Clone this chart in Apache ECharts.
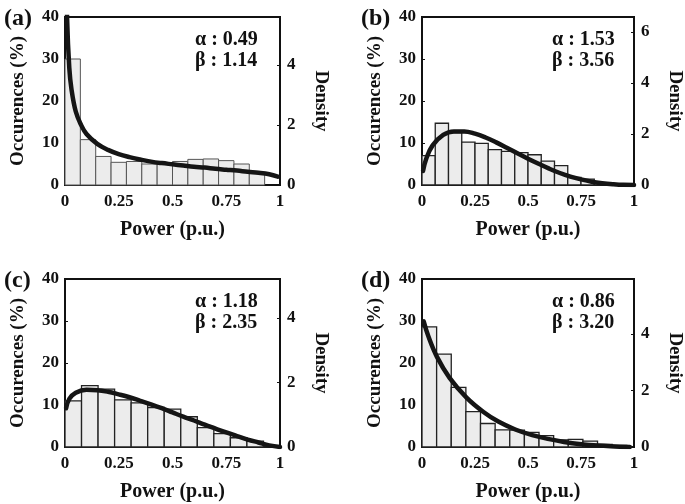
<!DOCTYPE html>
<html>
<head>
<meta charset="utf-8">
<script src="https://cdn.jsdelivr.net/npm/echarts@6/dist/echarts.min.js"></script>
<style>
html, body { margin: 0; background: #fff; }
#chart { width: 685px; height: 504px; }
</style>
</head>
<body>
<div id="chart"></div>
<script>
// histogram heights (%), bins start at 0
const histA = [30, 10.8, 6.8, 5.4, 5.6, 5.0, 4.9, 5.6, 6.1, 6.2, 5.8, 5.0, 3.0]
const histB = [7.0, 14.7, 12.5, 10.2, 9.9, 8.4, 8.0, 7.7, 7.2, 5.7, 4.6, 1.8, 1.4, 0.5, 0.2]
const histC = [11.0, 14.6, 13.8, 11.2, 10.5, 9.4, 9.0, 7.2, 4.6, 3.2, 2.2, 1.4, 0.3]
const histD = [28.6, 22.1, 14.2, 8.4, 5.6, 4.1, 4.0, 3.5, 2.7, 1.7, 1.8, 1.4, 0.6, 0.4]
const binWidths = [1 / 14, 1 / 16, 1 / 13, 0.069]

// fitted density curves [power, density]
const curveA = [[0.005, 7.9], [0.01, 5.5], [0.02, 3.9], [0.03, 3.2], [0.05, 2.45], [0.075, 2.0], [0.1, 1.7], [0.15, 1.37], [0.2, 1.17], [0.25, 1.03], [0.3, 0.93], [0.35, 0.85], [0.4, 0.78], [0.45, 0.73], [0.5, 0.69], [0.55, 0.65], [0.6, 0.61], [0.65, 0.58], [0.7, 0.54], [0.75, 0.51], [0.8, 0.48], [0.85, 0.44], [0.9, 0.41], [0.95, 0.36], [0.99, 0.28]]
const curveB = [[0.005, 0.55], [0.02, 1.03], [0.05, 1.55], [0.1, 1.96], [0.15, 2.1], [0.2, 2.1], [0.25, 2.01], [0.3, 1.86], [0.35, 1.67], [0.4, 1.46], [0.45, 1.24], [0.5, 1.03], [0.55, 0.83], [0.6, 0.64], [0.65, 0.47], [0.7, 0.33], [0.75, 0.22], [0.8, 0.13], [0.85, 0.07], [0.9, 0.03], [0.95, 0.005], [1, 0]]
const curveC = [[0.005, 1.2], [0.02, 1.49], [0.05, 1.68], [0.1, 1.77], [0.15, 1.76], [0.2, 1.71], [0.25, 1.63], [0.3, 1.54], [0.35, 1.43], [0.4, 1.32], [0.45, 1.2], [0.5, 1.07], [0.55, 0.94], [0.6, 0.82], [0.65, 0.69], [0.7, 0.57], [0.75, 0.45], [0.8, 0.34], [0.85, 0.23], [0.9, 0.14], [0.95, 0.05], [1, 0]]
const curveD = [[0.008, 4.45], [0.03, 3.92], [0.07, 3.2], [0.13, 2.45], [0.21, 1.75], [0.29, 1.24], [0.36, 0.9], [0.44, 0.62], [0.52, 0.42], [0.6, 0.28], [0.67, 0.18], [0.75, 0.1], [0.83, 0.05], [0.91, 0.02], [0.98, 0]]

const densityMax = [5.6, 6.58, 5.2, 5.95]
const panelLabels = ['(a)', '(b)', '(c)', '(d)']
const alphaLabels = ['α : 0.49', 'α : 1.53', 'α : 1.18', 'α : 0.86']
const betaLabels = ['β : 1.14', 'β : 3.56', 'β : 2.35', 'β : 3.20']

const hists = [histA, histB, histC, histD]
const curves = [curveA, curveB, curveC, curveD]

const font = 'Liberation Serif'
const ink = '#111'
const grids = [
    { left: 65, top: 17, width: 215, height: 168 },
    { left: 422, top: 17, width: 215, height: 168 },
    { left: 65, top: 279, width: 215, height: 168 },
    { left: 422, top: 279, width: 215, height: 168 },
]

const axisText = { fontFamily: font, fontWeight: 'bold', fontSize: 17, color: ink }
const nameText = { fontFamily: font, fontWeight: 'bold', fontSize: 19, color: ink }

const renderBar = (params, api) => {
    const p0 = api.coord([api.value(0), api.value(2)])
    const p1 = api.coord([api.value(1), 0])
    const first = params.seriesIndex === 0
    return {
        type: 'rect',
        shape: { x: p0[0], y: p0[1], width: p1[0] - p0[0], height: p1[1] - p0[1] },
        style: { fill: '#ececec', stroke: first ? '#555' : '#222', lineWidth: first ? 1 : 1.3 },
    }
}

const xAxis = []
const yAxis = []
const series = []
const graphic = []

grids.forEach((g, i) => {
    xAxis.push({
        type: 'value', gridIndex: i, min: 0, max: 1, interval: 0.25,
        name: 'Power (p.u.)', nameLocation: 'middle', nameGap: 35,
        nameTextStyle: { ...nameText, fontSize: 20 },
        axisLine: { lineStyle: { color: ink, width: 2 } },
        axisTick: { show: false },
        splitLine: { show: false },
        axisLabel: { ...axisText, margin: 8 },
    })
    yAxis.push({
        type: 'value', gridIndex: i, min: 0, max: 40, interval: 10,
        name: 'Occurences (%)', nameLocation: 'middle', nameGap: 37, nameTextStyle: nameText,
        axisLine: { show: true, lineStyle: { color: ink, width: 2 } },
        axisTick: { show: true, inside: true, length: 3, lineStyle: { color: ink } },
        splitLine: { show: false },
        axisLabel: { ...axisText, margin: 6 },
    })
    yAxis.push({
        type: 'value', gridIndex: i, position: 'right', min: 0, max: densityMax[i], interval: 2,
        name: 'Density', nameLocation: 'middle', nameGap: 31, nameRotate: -90, nameTextStyle: nameText,
        axisLine: { show: true, lineStyle: { color: ink, width: 2 } },
        axisTick: { show: true, inside: true, length: 3, lineStyle: { color: ink } },
        splitLine: { show: false },
        axisLabel: { ...axisText, margin: 7, showMaxLabel: false },
    })
    const bw = binWidths[i]
    series.push({
        type: 'custom', xAxisIndex: i, yAxisIndex: i * 2,
        renderItem: renderBar,
        encode: { x: [0, 1], y: 2 },
        data: hists[i].map((v, k) => [k * bw, (k + 1) * bw, v]),
        z: 1,
    })
    series.push({
        type: 'line', xAxisIndex: i, yAxisIndex: i * 2 + 1,
        data: curves[i], smooth: 0.4, showSymbol: false,
        lineStyle: { color: '#151515', width: 4.5, cap: 'round', join: 'round' },
        clip: true, z: 3,
    })
    graphic.push({
        type: 'text', left: g.left - 61, top: g.top - 10,
        style: { text: panelLabels[i], font: `bold 24px "${font}"`, fill: ink },
    })
    graphic.push({
        type: 'text', left: g.left + 130, top: g.top + 12,
        style: { text: alphaLabels[i] + '\n' + betaLabels[i], font: `bold 20px "${font}"`, lineHeight: 21, fill: ink },
    })
})

const chart = echarts.init(document.getElementById('chart'))
chart.setOption({
    backgroundColor: '#fff',
    animation: false,
    grid: grids.map(g => ({ ...g, show: true, borderColor: ink, borderWidth: 2 })),
    xAxis,
    yAxis,
    series,
    graphic,
})
</script>
</body>
</html>
